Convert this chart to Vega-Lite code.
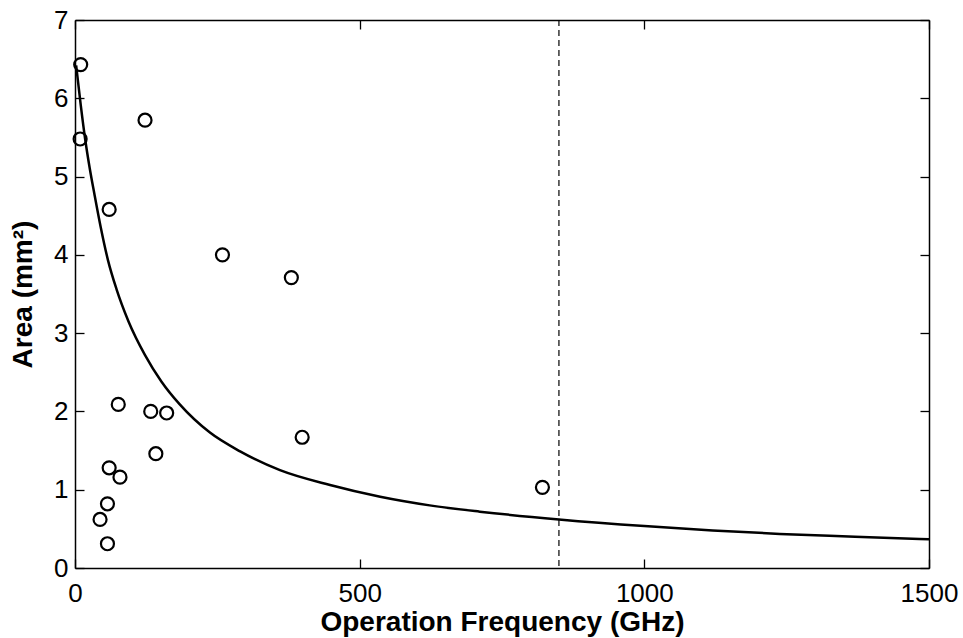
{
  "$schema": "https://vega.github.io/schema/vega-lite/v6.json",
  "width": 854,
  "height": 548,
  "autosize": {"type": "none"},
  "padding": {"left": 75, "top": 20, "right": 34, "bottom": 70},
  "background": "white",
  "config": {
    "view": {"stroke": null},
    "font": "Liberation Sans",
    "axis": {
      "grid": false,
      "domainColor": "black",
      "domainWidth": 1.5,
      "tickColor": "black",
      "tickWidth": 1.3,
      "tickSize": 9,
      "labelColor": "black",
      "labelFont": "Liberation Sans",
      "labelFontSize": 26,
      "titleFont": "Liberation Sans",
      "titleFontSize": 28,
      "titleFontWeight": "bold",
      "titleColor": "black"
    }
  },
  "datasets": {
    "curve": [
      {"f": 2, "a": 6.42}, {"f": 10, "a": 5.92}, {"f": 18, "a": 5.47}, {"f": 26, "a": 5.1},
      {"f": 34, "a": 4.78}, {"f": 45, "a": 4.36}, {"f": 58, "a": 3.93}, {"f": 73, "a": 3.56},
      {"f": 94, "a": 3.15}, {"f": 123, "a": 2.72}, {"f": 152, "a": 2.38}, {"f": 184, "a": 2.09},
      {"f": 237, "a": 1.73}, {"f": 290, "a": 1.49}, {"f": 360, "a": 1.25}, {"f": 448, "a": 1.06},
      {"f": 536, "a": 0.91}, {"f": 623, "a": 0.8}, {"f": 711, "a": 0.72}, {"f": 850, "a": 0.62},
      {"f": 1000, "a": 0.535}, {"f": 1120, "a": 0.48}, {"f": 1238, "a": 0.435}, {"f": 1370, "a": 0.4},
      {"f": 1500, "a": 0.366}
    ],
    "points": [
      {"f": 10, "a": 6.43}, {"f": 9, "a": 5.48}, {"f": 123, "a": 5.72}, {"f": 60, "a": 4.58},
      {"f": 259, "a": 4.0}, {"f": 380, "a": 3.71}, {"f": 76, "a": 2.09}, {"f": 133, "a": 2.0},
      {"f": 161, "a": 1.98}, {"f": 142, "a": 1.46}, {"f": 60, "a": 1.28}, {"f": 79, "a": 1.16},
      {"f": 57, "a": 0.82}, {"f": 44, "a": 0.62}, {"f": 57, "a": 0.31}, {"f": 399, "a": 1.67},
      {"f": 821, "a": 1.03}
    ],
    "marker": [{"f": 850}]
  },
  "layer": [
    {
      "data": {"name": "curve"},
      "mark": {"type": "line", "color": "black", "strokeWidth": 2.5, "interpolate": "monotone"},
      "encoding": {
        "x": {
          "field": "f", "type": "quantitative",
          "scale": {"domain": [0, 1500], "nice": false, "zero": false},
          "axis": {"orient": "bottom", "values": [0, 500, 1000, 1500], "format": "d", "ticks": false, "labelPadding": 12, "titlePadding": 2, "labelFlush": false, "labelOverlap": false, "title": "Operation Frequency (GHz)"}
        },
        "y": {
          "field": "a", "type": "quantitative",
          "scale": {"domain": [0, 7], "nice": false},
          "axis": {"orient": "left", "values": [0, 1, 2, 3, 4, 5, 6, 7], "format": "d", "ticks": false, "labelPadding": 7, "titlePadding": 16, "labelFlush": false, "labelOverlap": false, "title": "Area (mm²)"}
        }
      }
    },
    {
      "data": {"name": "points"},
      "mark": {"type": "point", "shape": "circle", "filled": false, "color": "black", "size": 169, "strokeWidth": 2.2, "opacity": 1},
      "encoding": {
        "x": {
          "field": "f", "type": "quantitative",
          "scale": {"domain": [0, 1500], "nice": false, "zero": false},
          "axis": {"orient": "top", "ticks": false, "labels": false, "title": null}
        },
        "y": {
          "field": "a", "type": "quantitative",
          "scale": {"domain": [0, 7], "nice": false},
          "axis": {"orient": "right", "ticks": false, "labels": false, "title": null}
        }
      }
    },
    {
      "data": {"name": "marker"},
      "mark": {"type": "rule", "color": "black", "strokeWidth": 1.2, "strokeDash": [6, 4]},
      "encoding": {
        "x": {"field": "f", "type": "quantitative", "scale": {"domain": [0, 1500], "nice": false, "zero": false}, "axis": null}
      }
    },
    {
      "data": {"name": "curve"},
      "mark": {"type": "line", "opacity": 0},
      "encoding": {
        "x": {
          "field": "f", "type": "quantitative",
          "scale": {"domain": [0, 1500], "nice": false, "zero": false},
          "axis": {"orient": "bottom", "offset": -9, "values": [0, 500, 1000, 1500], "domain": false, "labels": false, "title": null}
        },
        "y": {
          "field": "a", "type": "quantitative",
          "scale": {"domain": [0, 7], "nice": false},
          "axis": {"orient": "left", "offset": -9, "values": [0, 1, 2, 3, 4, 5, 6, 7], "domain": false, "labels": false, "title": null}
        }
      }
    },
    {
      "data": {"name": "curve"},
      "mark": {"type": "line", "opacity": 0},
      "encoding": {
        "x": {
          "field": "f", "type": "quantitative",
          "scale": {"domain": [0, 1500], "nice": false, "zero": false},
          "axis": {"orient": "top", "offset": -9, "values": [0, 500, 1000, 1500], "domain": false, "labels": false, "title": null}
        },
        "y": {
          "field": "a", "type": "quantitative",
          "scale": {"domain": [0, 7], "nice": false},
          "axis": {"orient": "right", "offset": -9, "values": [0, 1, 2, 3, 4, 5, 6, 7], "domain": false, "labels": false, "title": null}
        }
      }
    }
  ],
  "resolve": {"axis": {"x": "independent", "y": "independent"}}
}
